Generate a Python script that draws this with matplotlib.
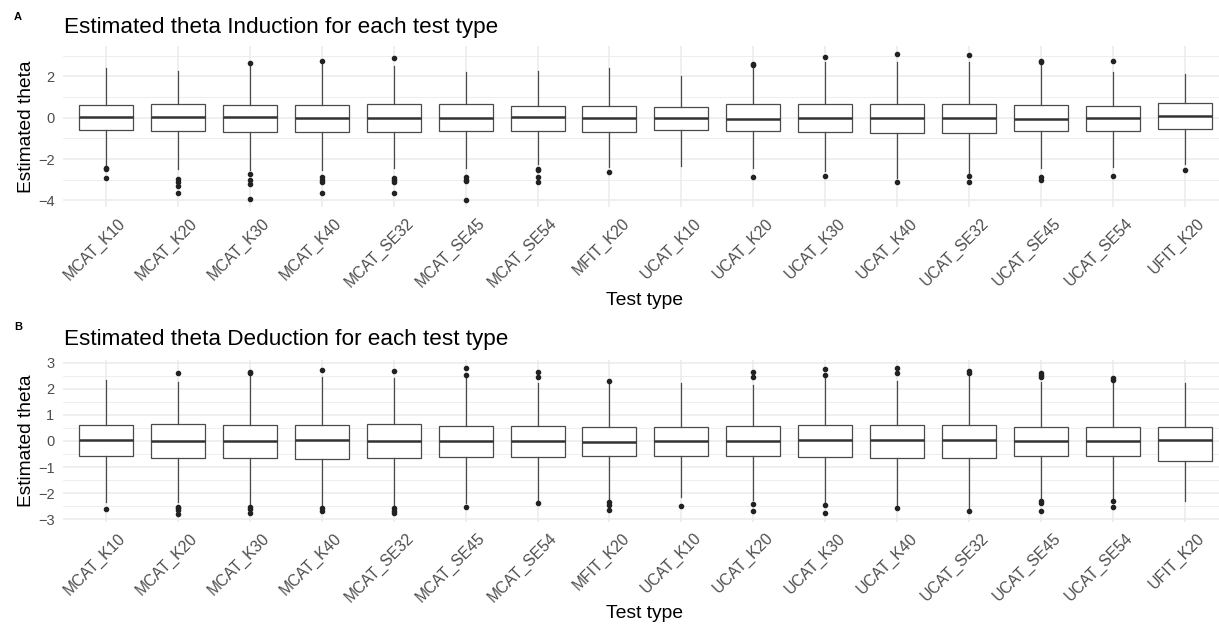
import matplotlib
matplotlib.use("Agg")
import matplotlib.pyplot as plt
import matplotlib.transforms as mtransforms
from matplotlib.ticker import MultipleLocator

plt.rcParams['font.family'] = ['Liberation Sans', 'DejaVu Sans']

tests = ["MCAT_K10", "MCAT_K20", "MCAT_K30", "MCAT_K40", "MCAT_SE32", "MCAT_SE45",
         "MCAT_SE54", "MFIT_K20", "UCAT_K10", "UCAT_K20", "UCAT_K30", "UCAT_K40",
         "UCAT_SE32", "UCAT_SE45", "UCAT_SE54", "UFIT_K20"]

# Induction (panel A)
ind_med = [0.05, 0.05, 0.05, 0.0, 0.0, 0.0, 0.03, -0.02, -0.02, -0.05, -0.02, -0.02, -0.02, -0.06, -0.02, 0.08]
ind_q1 = [-0.61, -0.66, -0.69, -0.69, -0.69, -0.65, -0.65, -0.69, -0.60, -0.65, -0.69, -0.74, -0.74, -0.65, -0.65, -0.56]
ind_q3 = [0.63, 0.68, 0.63, 0.63, 0.66, 0.65, 0.58, 0.58, 0.53, 0.65, 0.68, 0.68, 0.68, 0.63, 0.58, 0.73]
ind_lo = [-2.35, -2.5, -2.53, -2.53, -2.45, -2.44, -2.24, -2.37, -2.32, -2.45, -2.6, -2.9, -2.7, -2.45, -2.37, -2.24]
ind_hi = [2.39, 2.26, 2.55, 2.6, 2.52, 2.19, 2.24, 2.42, 2.03, 2.45, 2.71, 2.7, 2.7, 2.55, 2.19, 2.11]
ind_out = [
    [-2.42, -2.48, -2.9],
    [-2.97, -3.13, -3.29, -3.63],
    [2.66, -2.71, -3.02, -3.19, -3.95],
    [2.74, -2.89, -3.02, -3.13, -3.63],
    [2.87, -2.94, -3.02, -3.13, -3.63],
    [-2.87, -3.0, -3.06, -3.98],
    [-2.5, -2.55, -2.87, -3.11],
    [-2.63],
    [],
    [2.55, 2.62, -2.87],
    [2.92, -2.81],
    [3.1, -3.11],
    [3.05, -2.84, -3.11],
    [2.69, 2.76, -2.85, -3.02],
    [2.74, -2.81],
    [-2.55],
]

# Deduction (panel B)
ded_med = [0.03, 0.0, 0.0, 0.04, 0.0, 0.0, 0.0, -0.03, 0.0, 0.0, 0.04, 0.04, 0.04, 0.0, 0.0, 0.04]
ded_q1 = [-0.59, -0.64, -0.64, -0.68, -0.64, -0.61, -0.61, -0.59, -0.59, -0.59, -0.61, -0.65, -0.65, -0.57, -0.57, -0.75]
ded_q3 = [0.6, 0.64, 0.6, 0.6, 0.64, 0.59, 0.59, 0.55, 0.55, 0.59, 0.63, 0.63, 0.63, 0.55, 0.55, 0.55]
ded_lo = [-2.35, -2.33, -2.45, -2.5, -2.45, -2.39, -2.35, -2.3, -2.13, -2.26, -2.4, -2.5, -2.6, -2.26, -2.2, -2.29]
ded_hi = [2.34, 2.27, 2.52, 2.47, 2.4, 2.5, 2.21, 2.28, 2.24, 2.15, 2.5, 2.31, 2.55, 2.27, 2.27, 2.24]
ded_out = [
    [-2.61],
    [2.59, -2.52, -2.58, -2.65, -2.81],
    [2.59, 2.66, -2.54, -2.62, -2.75],
    [2.72, -2.58, -2.67],
    [2.68, -2.58, -2.67, -2.77],
    [2.53, 2.8, -2.52],
    [2.47, 2.66, -2.39],
    [2.31, -2.35, -2.45, -2.65],
    [-2.49],
    [2.47, 2.63, -2.42, -2.67],
    [2.53, 2.76, -2.45, -2.77],
    [2.6, 2.8, -2.57],
    [2.62, 2.7, -2.67],
    [2.44, 2.53, 2.62, -2.31, -2.39, -2.67],
    [2.34, 2.4, -2.31, -2.52],
    [],
]

W, H = 1219, 627
fig = plt.figure(figsize=(W / 100, H / 100), dpi=100)


def px(x, y):
    return x / W, 1 - y / H


def draw_panel(rect, med, q1, q3, lo, hi, out, ylim, major, minor):
    ax = fig.add_axes(rect)
    stats = []
    for i in range(len(tests)):
        stats.append(dict(med=med[i], q1=q1[i], q3=q3[i], whislo=lo[i], whishi=hi[i],
                          fliers=out[i], label=tests[i]))
    ax.bxp(stats, positions=range(1, len(tests) + 1), widths=0.75, showcaps=False,
           patch_artist=True,
           boxprops=dict(facecolor='white', edgecolor='#4a4a4a', linewidth=0.9),
           medianprops=dict(color='#333333', linewidth=1.8),
           whiskerprops=dict(color='#4a4a4a', linewidth=0.9),
           flierprops=dict(marker='o', markersize=3, markerfacecolor='#222222',
                           markeredgecolor='#222222'))
    ax.set_xlim(0.4, len(tests) + 0.6)
    ax.set_ylim(*ylim)
    ax.yaxis.set_major_locator(MultipleLocator(major))
    ax.yaxis.set_minor_locator(MultipleLocator(minor))
    ax.grid(which='major', color='#EBEBEB', linewidth=1.1)
    ax.grid(which='minor', axis='y', color='#EBEBEB', linewidth=0.6)
    ax.set_axisbelow(True)
    for s in ax.spines.values():
        s.set_visible(False)
    ax.tick_params(which='both', length=0)
    ax.tick_params(axis='y', labelsize=10.5, labelcolor='#4D4D4D', pad=6)
    ax.tick_params(axis='x', labelsize=11.3, labelcolor='#4D4D4D', pad=6)
    ax.set_xticks(range(1, len(tests) + 1))
    ax.set_xticklabels(tests, rotation=45, ha='right', rotation_mode='anchor')
    off = mtransforms.ScaledTranslation(12 / 100, 0, fig.dpi_scale_trans)
    for lab in ax.get_xticklabels():
        lab.set_transform(lab.get_transform() + off)
    return ax


left = 62.8 / W
width = 16.2 * 71.93 / W

axA = draw_panel([left, (H - 207.2) / H, width, 160.8 / H],
                 ind_med, ind_q1, ind_q3, ind_lo, ind_hi, ind_out,
                 (-4.33, 3.45), 2, 1)
axB = draw_panel([left, (H - 521.9) / H, width, 161.8 / H],
                 ded_med, ded_q1, ded_q3, ded_lo, ded_hi, ded_out,
                 (-3.1, 3.1), 1, 0.5)

# titles, labels
fig.text(*px(64, 28), "Estimated theta Induction for each test type", fontsize=16.2, va='center')
fig.text(*px(64, 340), "Estimated theta Deduction for each test type", fontsize=16.2, va='center')
fig.text(*px(14, 17), "A", fontsize=8, fontweight='bold', va='center')
fig.text(*px(14, 327), "B", fontsize=8, fontweight='bold', va='center')
fig.text(*px(645, 300), "Test type", fontsize=13.9, ha='center', va='center')
fig.text(*px(645, 613), "Test type", fontsize=13.9, ha='center', va='center')
fig.text(*px(27, 127), "Estimated theta", fontsize=13.8, rotation=90, ha='center', va='center')
fig.text(*px(27, 441), "Estimated theta", fontsize=13.8, rotation=90, ha='center', va='center')

fig.savefig("out.png", dpi=100)
